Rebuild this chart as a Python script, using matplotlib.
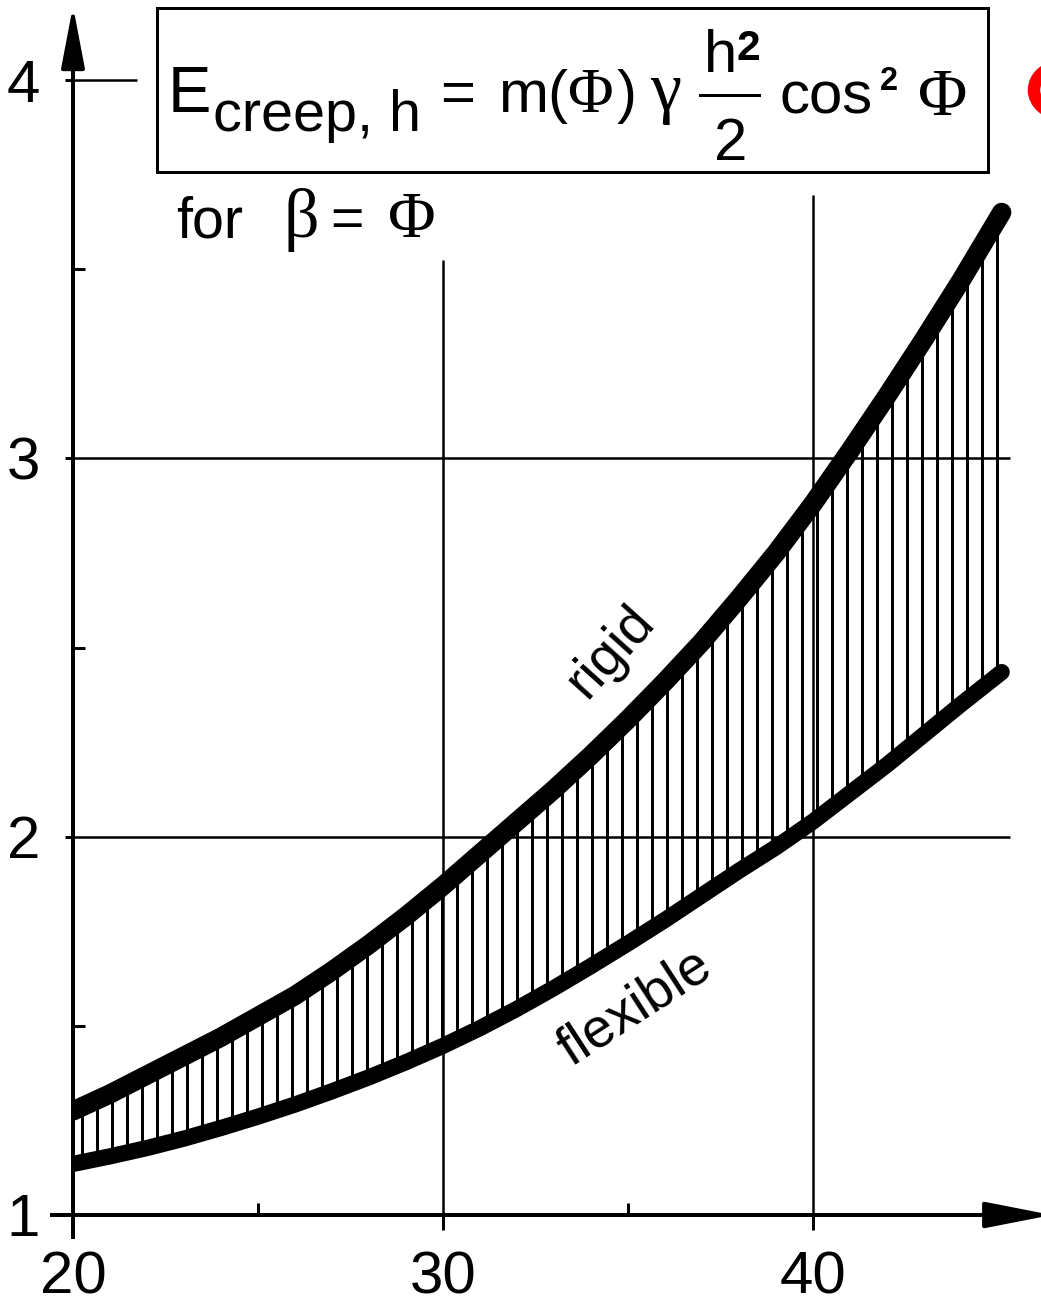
import matplotlib
matplotlib.use("Agg")
import matplotlib.pyplot as plt
from matplotlib.patches import Rectangle, Ellipse
from matplotlib.lines import Line2D

# ---------------- data ----------------
phi = [20, 21, 22, 23, 24, 25, 26, 27, 28, 29, 30, 31, 32, 33, 34, 35, 36, 37, 38, 39,
       40, 41, 42, 43, 44, 45.1]
e_rigid = [1.275, 1.32, 1.37, 1.42, 1.47, 1.525, 1.58, 1.645, 1.715, 1.79, 1.87, 1.955,
           2.04, 2.125, 2.215, 2.31, 2.41, 2.515, 2.63, 2.75, 2.88, 3.02, 3.165, 3.315,
           3.47, 3.65]
e_flexible = [1.135, 1.155, 1.177, 1.202, 1.23, 1.26, 1.292, 1.327, 1.364, 1.404, 1.447,
              1.494, 1.545, 1.6, 1.658, 1.718, 1.78, 1.845, 1.91, 1.972, 2.04, 2.115,
              2.19, 2.27, 2.35, 2.435]
x_major = [20, 30, 40]
x_major_labels = ["20", "30", "40"]
x_minor = [25, 35]
y_major = [1, 2, 3, 4]
y_major_labels = ["1", "2", "3", "4"]
y_minor = [1.5, 2.5, 3.5]

# ---------------- layout helpers ----------------
W, H, DPI = 1041, 1303, 90
PX0, PXU = 73, 37.0        # pixel of x=20, pixels per degree
PY0, PYU = 1215, 378.33    # pixel of y=1, pixels per unit

def X(px):
    return 20 + (px - PX0) / PXU

def Y(py):
    return 1 + (PY0 - py) / PYU

def FX(px):
    return px / W

def FY(py):
    return 1 - py / H

plt.rcParams["hatch.linewidth"] = 2.4
plt.rcParams["font.family"] = ["Liberation Sans", "DejaVu Sans"]

fig = plt.figure(figsize=(W / DPI, H / DPI), dpi=DPI)
ax = fig.add_axes([0, 0, 1, 1])
ax.set_xlim(X(0), X(W))
ax.set_ylim(Y(H), Y(0))
ax.patch.set_visible(False)

# spines as axis lines through the origin (20, 1)
for s in ["top", "right"]:
    ax.spines[s].set_visible(False)
ax.spines["left"].set_position(("data", 20))
ax.spines["bottom"].set_position(("data", 1))
ax.spines["left"].set_bounds(Y(1237), Y(40))
ax.spines["bottom"].set_bounds(X(52), X(1000))
ax.spines["left"].set_linewidth(3.2)
ax.spines["bottom"].set_linewidth(3.2)

# arrow heads
ax.annotate("", xy=(20, Y(6)), xytext=(20, Y(70)),
            arrowprops=dict(arrowstyle="-|>,head_length=2.1,head_width=0.4",
                            mutation_scale=20, color="k", lw=3.2,
                            shrinkA=0, shrinkB=0), annotation_clip=False)
ax.annotate("", xy=(X(1052), 1), xytext=(X(985), 1),
            arrowprops=dict(arrowstyle="-|>,head_length=2.3,head_width=0.45",
                            mutation_scale=20, color="k", lw=3.2,
                            shrinkA=0, shrinkB=0), annotation_clip=False)

# ticks
tick_font = dict(family="Liberation Sans", size=48)
ax.set_xticks(x_major, labels=x_major_labels, **tick_font)
ax.set_xticks(x_minor, minor=True)
ax.set_yticks(y_major, labels=y_major_labels, **tick_font)
ax.set_yticks(y_minor, minor=True)
ax.tick_params(axis="x", which="major", direction="out", length=12, width=2.4, pad=16)
ax.tick_params(axis="x", which="minor", direction="in", length=9.6, width=2.4)
ax.tick_params(axis="y", which="major", direction="out", length=6.4, width=2.4, pad=20)
ax.tick_params(axis="y", which="minor", direction="in", length=9.6, width=2.4)

# partial grid lines
ax.hlines([2, 3], 20, X(1010), colors="k", lw=2.0)
ax.hlines([4], 20, X(137), colors="k", lw=2.0)
ax.vlines([30], 1, Y(260), colors="k", lw=2.0)
ax.vlines([40], 1, Y(195), colors="k", lw=2.0)

# hatched band between the two curves
ax.fill_between(phi, e_flexible, e_rigid, facecolor="none", edgecolor="k",
                hatch="|", linewidth=0)

clip = Rectangle((20, 0), 40, 10, transform=ax.transData)
l1, = ax.plot(phi, e_rigid, color="k", lw=15.5, solid_capstyle="round", solid_joinstyle="round")
l2, = ax.plot(phi, e_flexible, color="k", lw=13, solid_capstyle="round", solid_joinstyle="round")
l1.set_clip_path(clip)
l2.set_clip_path(clip)

# curve labels
ax.text(X(611), Y(652), "rigid", rotation=48, rotation_mode="anchor",
        ha="center", va="center", family="Liberation Sans", size=44)
ax.text(X(635), Y(1008), "flexible", rotation=33, rotation_mode="anchor",
        ha="center", va="center", family="Liberation Sans", size=44)

# formula box
fig.patches.append(Rectangle((FX(157), FY(172)), FX(988) - FX(157), FY(8) - FY(172),
                             transform=fig.transFigure, fill=False, lw=2.4, ec="k"))

SANS = "Liberation Sans"
SERIF = "Liberation Serif"

def piece(px, py, s, fam=SANS, size=48, **kw):
    fig.text(FX(px), FY(py), s, family=fam, size=size, ha="left", va="baseline", **kw)

piece(168, 112, "E", size=52)
piece(213, 131, "creep, h", size=46)
piece(440, 112, "=", size=48)
piece(498, 112, "m(", size=48)
piece(567, 112, "Φ", fam=SERIF, size=50)
piece(617, 112, ")", size=48)
piece(650, 110, "γ", fam=SERIF, size=56)
piece(704, 72, "h", size=48)
piece(736, 60, "2", size=34, weight="bold")
fig.add_artist(Line2D([FX(700), FX(759)], [FY(95), FY(95)], transform=fig.transFigure,
                      color="k", lw=2.4))
piece(714, 160, "2", size=48)
piece(780, 113, "cos", size=48)
piece(880, 90, "2", size=26, weight="bold")
piece(918, 115, "Φ", fam=SERIF, size=54)

piece(176, 237, "for", size=46)
piece(284, 237, "β", fam=SERIF, size=56)
piece(330, 237, "=", size=46)
piece(388, 237, "Φ", fam=SERIF, size=52)

# red mark cut at the right edge (only its left stroke is visible)
fig.patches.append(Ellipse((FX(1062), FY(90)), FX(56), 48 / H, transform=fig.transFigure,
                           fill=False, ec="red", lw=10))

fig.savefig("out.png", dpi=DPI)
